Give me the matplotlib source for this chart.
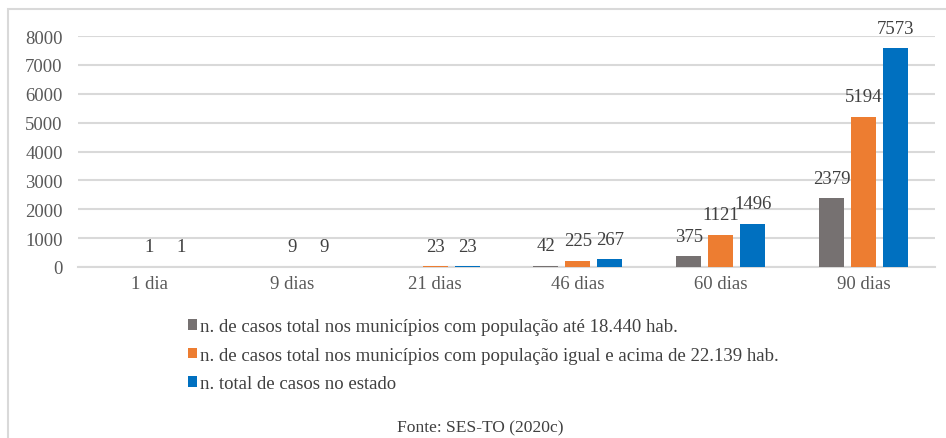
import matplotlib
matplotlib.use("Agg")
import matplotlib.pyplot as plt
from matplotlib.patches import Rectangle
import numpy as np

categories = ["1 dia", "9 dias", "21 dias", "46 dias", "60 dias", "90 dias"]
small_munic = [0, 0, 0, 42, 375, 2379]
large_munic = [1, 9, 23, 225, 1121, 5194]
state_total = [1, 9, 23, 267, 1496, 7573]
series_names = [
    "n. de casos total nos municípios com população até 18.440 hab.",
    "n. de casos total nos municípios com população igual e acima de 22.139 hab.",
    "n. total de casos no estado",
]
yticks = [0, 1000, 2000, 3000, 4000, 5000, 6000, 7000, 8000]
source_note = "Fonte: SES-TO (2020c)"

colors = ["#767171", "#ED7D31", "#0070C0"]
grid_c = "#D9D9D9"
text_c = "#595959"
label_c = "#404040"

plt.rcParams["font.family"] = "serif"
plt.rcParams["font.serif"] = ["Liberation Serif", "DejaVu Serif"]
SERIF = "Liberation Serif"

W, H = 946, 439
fig = plt.figure(figsize=(W / 100, H / 100), dpi=100)
fig.patch.set_facecolor("white")

# outer frame (runs off the right and bottom edges)
fig.patches.append(Rectangle((8 / W, -0.2), 1.2, (H - 10) / H + 0.2,
                             transform=fig.transFigure, fill=False,
                             edgecolor=grid_c, lw=1.5, zorder=0))

ax = fig.add_axes([78 / W, (H - 268) / H, (935 - 78) / W, (268 - 37) / H])
x = np.arange(len(categories))
step = 32 / 142.8
bw = 25 / 142.8

all_series = [small_munic, large_munic, state_total]
handles = []
for i, (vals, col, name) in enumerate(zip(all_series, colors, series_names)):
    pos = x + (i - 1) * step
    bars = ax.bar(pos, vals, width=bw, color=col, label=name, zorder=3)
    handles.append(bars)
    for p, v in zip(pos, vals):
        if v:
            ax.annotate(f"{v}", (p, v), xytext=(0, 14.5), textcoords="offset points",
                        ha="center", va="center", fontsize=13.5, color=label_c,
                        family=SERIF, annotation_clip=False)

ax.set_xlim(-0.5, len(categories) - 0.5)
ax.set_ylim(0, 8000)
ax.set_yticks(yticks)
ax.set_yticklabels([str(t) for t in yticks], family=SERIF)
ax.set_xticks(x)
ax.set_xticklabels(categories, family=SERIF)
ax.tick_params(axis="both", length=0, labelsize=13.5, colors=text_c)
ax.tick_params(axis="y", pad=11)
ax.tick_params(axis="x", pad=6)
ax.yaxis.grid(True, color=grid_c, lw=1.5, zorder=0)
for s in ["top", "right", "left"]:
    ax.spines[s].set_visible(False)
ax.spines["bottom"].set_color(grid_c)
ax.spines["bottom"].set_linewidth(1.5)

leg = fig.legend(handles=handles, labels=series_names, loc="upper left",
                 bbox_to_anchor=(188 / W, (H - 319) / H), frameon=False,
                 prop={"family": SERIF, "size": 13.5},
                 handlelength=0.5, handleheight=0.5,
                 handletextpad=0.15, labelspacing=0.62, borderaxespad=0,
                 borderpad=0)
for t in leg.get_texts():
    t.set_color(label_c)

fig.text(480 / W, (H - 428) / H, source_note, ha="center", va="center",
         fontsize=12.6, color=label_c, family=SERIF)

fig.savefig("out.png", dpi=100, facecolor="white")
